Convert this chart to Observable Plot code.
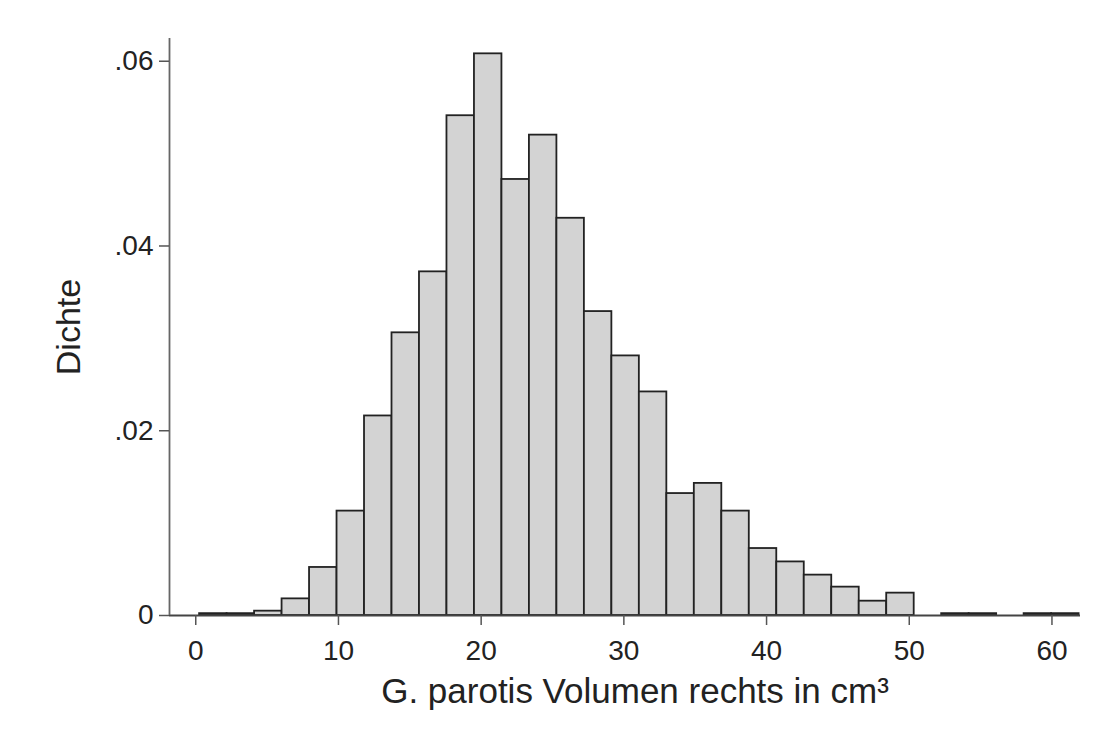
<!DOCTYPE html>
<html>
<head>
<meta charset="utf-8">
<script src="https://cdn.jsdelivr.net/npm/d3@7"></script>
<script src="https://cdn.jsdelivr.net/npm/@observablehq/plot@0.6"></script>
<style>
  html, body { margin: 0; padding: 0; background: #fff; }
  #chart svg { display: block; }
</style>
</head>
<body>
<div id="chart"></div>
<script>
// Histogram of right parotid gland volume (density scale), 32 equal-width bins
const binStart = 0.27;      // lower edge of the first bin (cm³)
const binWidth = 1.926;     // width of each bin (cm³)
const densities = [
  0.0002, 0.0002, 0.00047, 0.0018, 0.0052, 0.0113, 0.0216, 0.0306,
  0.0372, 0.0541, 0.0608, 0.0472, 0.0520, 0.0430, 0.0329, 0.0281,
  0.0242, 0.0132, 0.0143, 0.0113, 0.00725, 0.0058, 0.00437, 0.00307,
  0.00155, 0.00242, 0, 0.0002, 0.0002, 0, 0.0002, 0.0002
];

const xTicks = [0, 10, 20, 30, 40, 50, 60];
const yTicks = [0, 0.02, 0.04, 0.06];
const yTickLabels = ["0", ".02", ".04", ".06"];
const xTitle = "G. parotis Volumen rechts in cm³";
const yTitle = "Dichte";

const xDomain = [-1.84, 62.0];
const yDomain = [0, 0.06246];

const bins = densities.map((d, i) => ({
  x1: binStart + i * binWidth,
  x2: binStart + (i + 1) * binWidth,
  density: d
})).filter(b => b.density > 0);

const font = "'Liberation Sans', Arial, Helvetica, sans-serif";

const chart = Plot.plot({
  width: 1110,
  height: 745,
  marginLeft: 169,
  marginRight: 30,
  marginTop: 38,
  marginBottom: 130,
  style: { fontFamily: font, background: "#fff", color: "#222" },
  x: { domain: xDomain },
  y: { domain: yDomain },
  marks: [
    Plot.rectY(bins, {
      x1: "x1", x2: "x2", y: "density",
      fill: "#d3d3d3", stroke: "#222", strokeWidth: 1.8
    }),
    // axis lines
    Plot.ruleY([0], { stroke: "#444", strokeWidth: 1.8 }),
    Plot.ruleX([xDomain[0]], { stroke: "#666", strokeWidth: 1.8 }),
    Plot.axisX({
      ticks: xTicks, tickSize: 10, tickPadding: 15,
      fontSize: 28, stroke: "#555", strokeWidth: 1.5, label: null
    }),
    Plot.axisY({
      ticks: yTicks, tickSize: 10, tickPadding: 6,
      tickFormat: (d) => yTickLabels[yTicks.indexOf(d)],
      fontSize: 28, stroke: "#555", strokeWidth: 1.5, label: null
    }),
    Plot.text([xTitle], {
      frameAnchor: "bottom", lineAnchor: "middle", textAnchor: "middle",
      dx: 10, dy: 76, fontSize: 35, fill: "#222"
    }),
    Plot.text([yTitle], {
      frameAnchor: "left", lineAnchor: "middle", textAnchor: "middle",
      dx: -100, rotate: -90, fontSize: 34, fill: "#222"
    })
  ]
});

document.getElementById("chart").appendChild(chart);
</script>
</body>
</html>
